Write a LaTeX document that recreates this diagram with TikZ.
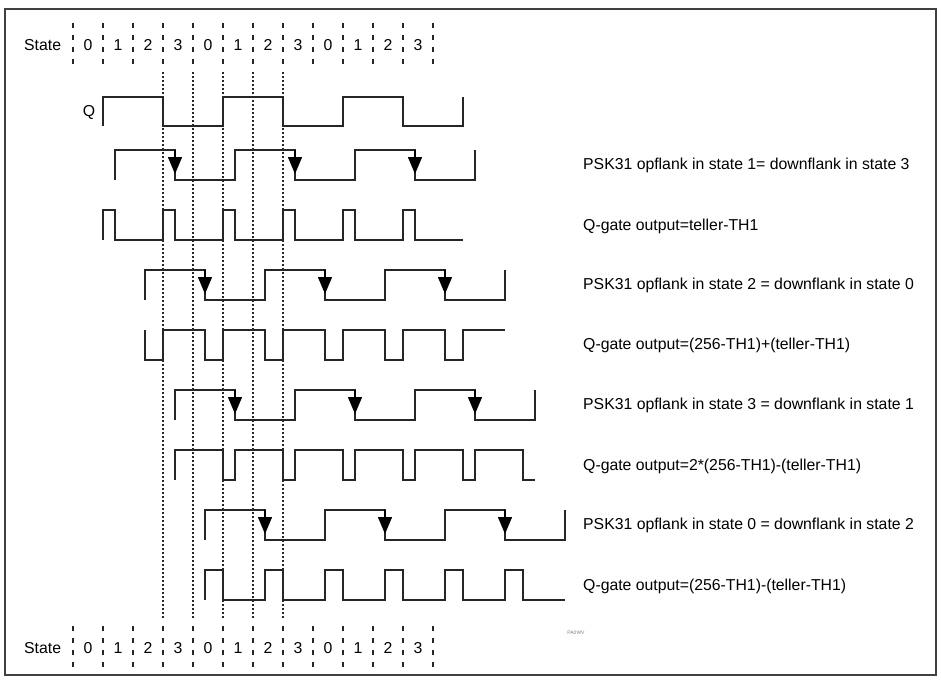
\documentclass[tikz,border=0pt]{standalone}
\usepackage{fontspec}
\setmainfont{Liberation Sans}
\usetikzlibrary{arrows.meta}

\tikzset{
	signal/.style={line width=1.4pt, black!85},
	flank/.style={line width=1.4pt, black, -{Triangle[length=17pt,width=14pt]}},
	divider/.style={line width=1.2pt, black!85, dash pattern=on 5pt off 7pt},
	guide/.style={line width=1.4pt, black!85, dash pattern=on 1.5pt off 2.5pt},
	rowtext/.style={anchor=west, inner sep=0pt},
}

\newcommand{\wave}[7]{
	\pgfmathsetmacro{\WVend}{#1+#4*#3}
	\draw[signal] (#1,#6) \foreach \m in {1,...,#4} {
		-- ({#1+(\m-1)*#3},#5) -- ({#1+(\m-1)*#3+#2},#5)
		-- ({#1+(\m-1)*#3+#2},#6) -- ({#1+\m*#3},#6)
	} -- (\WVend,#7);
}

\newcommand{\flanks}[2]{
	\foreach \m in {0,1,2}
		\draw[flank] ({#1+60+120*\m},#2) -- ++(0,24);
}

\newcommand{\staterow}[2]{
	\node[rowtext] (#2) at (24,#1+22) {State};
	\foreach \i in {0,...,12}
		\draw[divider] (73+30*\i,#1) -- (73+30*\i,#1+43);
	\foreach \i in {0,...,11} {
		\pgfmathtruncatemacro{\st}{mod(\i,4)}
		\node (#2-\i) at (88+30*\i,#1+22) {\st};
	}
}

\begin{document}
\begin{tikzpicture}[x=1pt, y=-1pt, font=\fontsize{15.8}{18}\selectfont]
\useasboundingbox (0,0) rectangle (941,680);
\draw[line width=1.4pt, black!75] (5,9) rectangle (936,675);

\staterow{23}{top}
\staterow{626}{bot}

\foreach \x in {163,193,223,253,283}
	\draw[guide] (\x,72) -- (\x,620);

\node (q) at (89,112) {Q};
\wave{103}{60}{120}{3}{97}{126}{97}

\wave{115}{60}{120}{3}{150}{180}{150}
\flanks{115}{150}
\wave{103}{12}{60}{6}{210}{240}{240}

\wave{145}{60}{120}{3}{270}{300}{270}
\flanks{145}{270}
\wave{145}{18}{60}{6}{360}{330}{330}

\wave{175}{60}{120}{3}{390}{420}{390}
\flanks{175}{390}
\wave{175}{48}{60}{6}{450}{480}{480}

\wave{205}{60}{120}{3}{510}{540}{510}
\flanks{205}{510}
\wave{205}{18}{60}{6}{570}{600}{600}

\node[rowtext] (psk1) at (583,165) {PSK31 opflank in state 1= downflank in state 3};
\node[rowtext] (gate1) at (583,226) {Q-gate output=teller-TH1};
\node[rowtext] (psk2) at (583,285) {PSK31 opflank in state 2 = downflank in state 0};
\node[rowtext] (gate2) at (583,345) {Q-gate output=(256-TH1)+(teller-TH1)};
\node[rowtext] (psk3) at (583,405) {PSK31 opflank in state 3 = downflank in state 1};
\node[rowtext] (gate3) at (583,466) {Q-gate output=2*(256-TH1)-(teller-TH1)};
\node[rowtext] (psk4) at (583,525) {PSK31 opflank in state 0 = downflank in state 2};
\node[rowtext] (gate4) at (583,586) {Q-gate output=(256-TH1)-(teller-TH1)};

\node[gray, font=\fontsize{5}{6}\selectfont] (sign) at (576,633) {PA0WV};
\end{tikzpicture}
\end{document}
